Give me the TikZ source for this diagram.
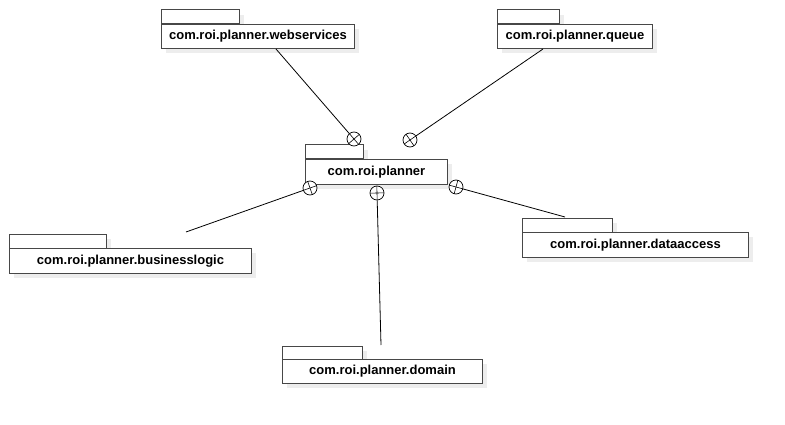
\documentclass[tikz,border=0pt]{standalone}
\usepackage{fontspec}
\setmainfont{Liberation Sans}
\usetikzlibrary{calc}
\tikzset{
  pkgbody/.style={draw=black!72, line width=1pt, fill=white, anchor=north west, inner sep=0pt,
                  font=\fontsize{13}{15}\selectfont\bfseries},
  pkgtab/.style={draw=black!72, line width=1pt, fill=white},
  pkgshade/.style={fill=black!7, draw=none},
  conn/.style={draw=black, line width=0.8pt},
  crossline/.style={draw=black, line width=0.6pt},
  lolly/.style={circle, draw=black, line width=0.7pt, minimum size=14pt, inner sep=0pt, fill=white},
}
% #1 name, #2 x, #3 y (top of body), #4 body width, #5 body height, #6 tab width, #7 tab height, #8 text
\newcommand\pkgnode[8]{%
  \fill[pkgshade] (#2+5,#3+5) rectangle ++(#4,#5);
  \fill[pkgshade] (#2+5,#3-#7+5) rectangle ++(#6,#7);
  \draw[pkgtab] (#2,#3) rectangle ++(#6,-#7);
  \node[pkgbody, minimum width=#4pt, minimum height=#5pt] (#1) at (#2,#3) {#8};
}
% #1 circle node, #2 far end
\newcommand\lolli[2]{%
  \draw[conn] (#2) -- (#1);
  \draw[crossline] ($(#1)!7pt!(#2)$) -- ($(#1)!-7pt!(#2)$);
  \draw[crossline] ($(#1)!7pt!90:(#2)$) -- ($(#1)!7pt!-90:(#2)$);
}
\begin{document}
\begin{tikzpicture}[x=1pt,y=-1pt]
  \useasboundingbox (0,0) rectangle (785,425);
  \fill[white] (0,0) rectangle (785,425);

  \pkgnode{ws}{161}{24}{193}{24}{78}{14}{com.roi.planner.webservices}
  \pkgnode{qu}{497}{24}{155}{24}{62}{14}{com.roi.planner.queue}
  \pkgnode{pl}{305}{159}{142}{25}{58}{14}{com.roi.planner}
  \pkgnode{bl}{9}{248}{242}{25}{97}{14}{com.roi.planner.businesslogic}
  \pkgnode{dm}{282}{359}{200}{24}{80}{13}{com.roi.planner.domain}
  \pkgnode{da}{522}{232}{226}{25}{90}{14}{com.roi.planner.dataaccess}

  \coordinate (wsend) at ($(ws.south west)+(115,0)$);
  \coordinate (quend) at ($(qu.south west)+(46,0)$);
  \coordinate (blend) at (186,232);
  \coordinate (dmend) at (381,345);
  \coordinate (daend) at (565,217);

  \node[lolly] (cws) at (354,139) {};
  \node[lolly] (cqu) at (410,140) {};
  \node[lolly] (cbl) at (310,188) {};
  \node[lolly] (cdm) at (377,193) {};
  \node[lolly] (cda) at (456,187) {};

  \lolli{cws}{wsend}
  \lolli{cqu}{quend}
  \lolli{cbl}{blend}
  \lolli{cdm}{dmend}
  \lolli{cda}{daend}
\end{tikzpicture}
\end{document}
